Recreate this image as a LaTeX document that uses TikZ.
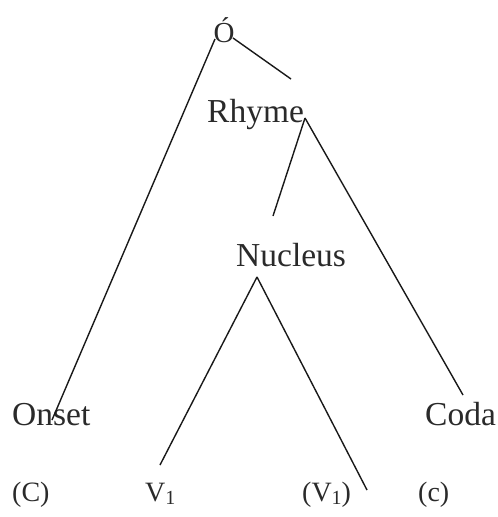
\documentclass[tikz,border=0pt]{standalone}
\usepackage{fontspec}
\setmainfont{Liberation Serif}
\definecolor{ink}{HTML}{2A2A2A}
\newcommand{\lowsub}[1]{\raisebox{-0.3ex}{\fontsize{20}{22}\selectfont #1}}
\begin{document}
\begin{tikzpicture}[x=1pt,y=-1pt,
  big/.style={inner sep=0pt,anchor=base west,text=ink,font=\fontsize{33.5}{38}\selectfont},
  small/.style={inner sep=0pt,anchor=base west,text=ink,font=\fontsize{28}{32}\selectfont},
  edge/.style={draw=black!90,line width=1.4pt}]
\useasboundingbox (0,0) rectangle (498,517);
% nodes
\node[inner sep=0pt,anchor=base,text=ink,font=\fontsize{29}{32}\selectfont] (sig) at (224,42) {Ó};
\node[big] (rhyme) at (207,122) {Rhyme};
\node[big] (nuc) at (236,266) {Nucleus};
\node[big] (onset) at (12,425) {Onset};
\node[big] (coda) at (425,425) {Coda};
\node[small] (c1) at (12,501) {(C)};
\node[small] (v1) at (145,501) {V\lowsub{1}};
\node[small] (v2) at (302,501) {(V\lowsub{1})};
\node[small] (c2) at (418,501) {(c)};
% connector end points
\coordinate (sigL) at (215,39);
\coordinate (sigR) at (233,38);
\coordinate (rhTop) at (291,79);
\coordinate (rhApex) at (305,118);
\coordinate (nucTop) at (273,216);
\coordinate (nucApex) at (257,277);
\coordinate (onTop) at (52,420);
\coordinate (coTop) at (463,395);
\coordinate (v1Top) at (160,465);
\coordinate (v2Top) at (367,490);
% connectors
\draw[edge] (sigL) -- (onTop);
\draw[edge] (sigR) -- (rhTop);
\draw[edge] (rhApex) -- (nucTop);
\draw[edge] (rhApex) -- (coTop);
\draw[edge] (nucApex) -- (v1Top);
\draw[edge] (nucApex) -- (v2Top);
\end{tikzpicture}
\end{document}
